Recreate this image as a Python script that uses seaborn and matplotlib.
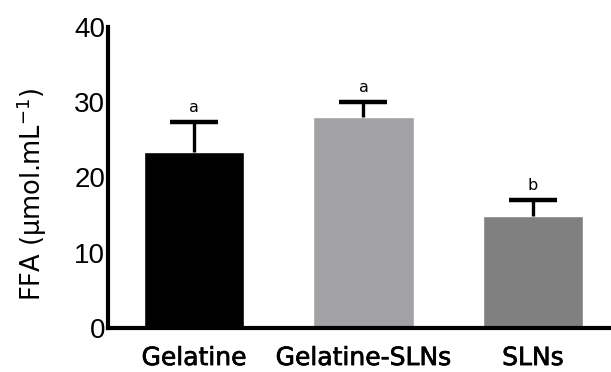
import matplotlib
matplotlib.use("Agg")
import matplotlib.pyplot as plt
import matplotlib.patheffects as pe
import seaborn as sns
import pandas as pd

categories = ["Gelatine", "Gelatine-SLNs", "SLNs"]
means = [23.4, 28.0, 14.9]
errors = [4.0, 2.0, 2.1]
letters = ["a", "a", "b"]
colors = ["#000000", "#A2A2A6", "#808080"]
yticks = [0, 10, 20, 30, 40]

sns.set_style("white")
plt.rcParams["font.family"] = ["DejaVu Sans"]
plt.rcParams["text.color"] = "black"
plt.rcParams["axes.labelcolor"] = "black"
plt.rcParams["xtick.color"] = "black"
plt.rcParams["ytick.color"] = "black"

df = pd.DataFrame({"group": categories, "ffa": means})

fig = plt.figure(figsize=(6.11, 3.72), dpi=100)
ax = fig.add_axes([0.1768, 0.1183, 0.8232, 0.8091])

sns.barplot(data=df, x="group", y="ffa", hue="group", palette=colors,
            width=0.59, saturation=1, legend=False, ax=ax, errorbar=None)

# upward-only error bars with a single cap on top
x = list(range(len(categories)))
_, caps, _ = ax.errorbar(x, means, yerr=[[0] * len(errors), errors], fmt="none",
                         ecolor="black", elinewidth=2.4, capsize=17,
                         capthick=3.2, zorder=3)
caps[0].set_visible(False)

for xi, m, e, t in zip(x, means, errors, letters):
    ax.text(xi, m + e + 0.9, t, ha="center", va="bottom", fontsize=11.5)

ax.set_xlim(-0.507, 2.46)
ax.set_ylim(0, 40)
ax.set_yticks(yticks)
ax.set_xlabel("")
ax.set_ylabel("FFA (µmol.mL$^{\\mathregular{-1}}$)", fontsize=18.5)
ax.yaxis.set_label_coords(-0.117, 0.445)
ax.tick_params(axis="y", length=0, labelsize=20, pad=2)
ax.tick_params(axis="x", length=0, labelsize=18, pad=13)
for lab in ax.get_yticklabels():
    lab.set_fontfamily("Liberation Sans")
for lab in ax.get_xticklabels():
    lab.set_path_effects([pe.withStroke(linewidth=0.5, foreground="black")])

sns.despine(ax=ax)
for side in ("left", "bottom"):
    ax.spines[side].set_linewidth(3)
    ax.spines[side].set_color("black")

fig.savefig("out.png", dpi=100)
